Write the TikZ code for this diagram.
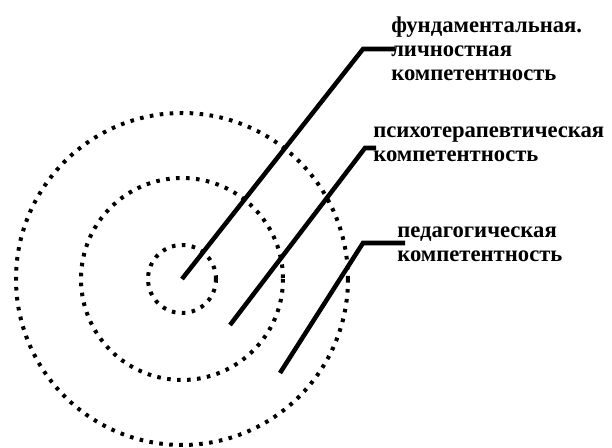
\documentclass[tikz,border=0pt]{standalone}
\usepackage{fontspec}
\setmainfont{Liberation Serif}
\begin{document}
\begin{tikzpicture}[x=0.75pt,y=-0.75pt,
    ring/.style={line width=3pt, dash pattern=on 2.7pt off 4.8pt},
    leader/.style={line width=3.4pt},
    lbl/.style={font=\fontsize{17}{18}\selectfont\bfseries, align=left, anchor=north west, inner sep=0pt}]
    \useasboundingbox (0,0) rectangle (612,448);
    \coordinate (c) at (182,279);

    % rings
    \draw[ring] (c) circle (34);
    \draw[ring] (c) circle (101);
    \draw[ring] (c) circle (166);

    % labels
    \node[lbl] (fund) at (391,17) {фундаментальная.\\личностная\\компетентность};
    \node[lbl] (psych) at (373,127) {психотерапевтическая\\компетентность};
    \node[lbl] (ped) at (397,227) {педагогическая\\компетентность};

    % leader lines
    \coordinate (k1) at (363,49);  \coordinate (e1) at (395,49);
    \coordinate (s2) at (230,325); \coordinate (k2) at (365,148); \coordinate (e2) at (376,148);
    \coordinate (s3) at (280,373); \coordinate (k3) at (363,243); \coordinate (e3) at (405,243);
    \draw[leader] (c) -- (k1) -- (e1);
    \draw[leader] (s2) -- (k2) -- (e2);
    \draw[leader] (s3) -- (k3) -- (e3);
\end{tikzpicture}
\end{document}
